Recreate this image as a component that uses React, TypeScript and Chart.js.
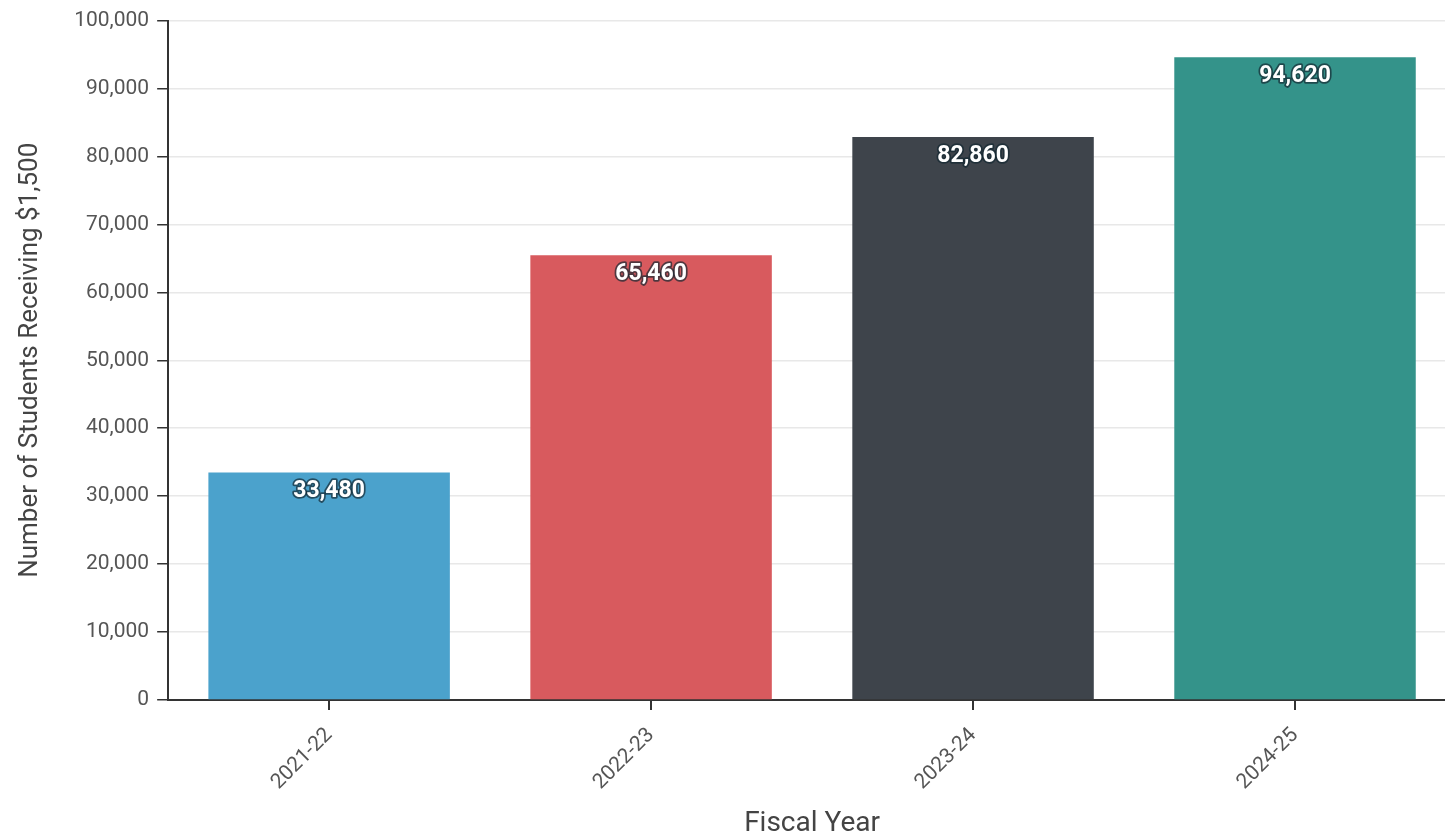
import React, { useEffect, useRef } from "react";
import { Chart, registerables } from "chart.js";

Chart.register(...registerables);

const categories = ["2021-22", "2022-23", "2023-24", "2024-25"];
const students = [33480, 65460, 82860, 94620];
const barColors = ["#4BA2CC", "#D85A5E", "#3E444B", "#34938A"];
const yTicks = [0, 10000, 20000, 30000, 40000, 50000, 60000, 70000, 80000, 90000, 100000];

const valueLabels = {
  id: "valueLabels",
  afterDatasetsDraw(chart: any) {
    const ctx = chart.ctx;
    const meta = chart.getDatasetMeta(0);
    ctx.save();
    ctx.font = "bold 23px Roboto";
    ctx.textAlign = "center";
    ctx.textBaseline = "middle";
    ctx.lineJoin = "round";
    meta.data.forEach((bar: any, i: number) => {
      const text = students[i].toLocaleString("en-US");
      const y = bar.y + 19;
      ctx.lineWidth = 3.5;
      ctx.strokeStyle = "rgba(20,40,50,0.7)";
      ctx.strokeText(text, bar.x, y);
      ctx.fillStyle = "#ffffff";
      ctx.fillText(text, bar.x, y);
    });
    ctx.restore();
  },
};

export default function App() {
  const ref = useRef<HTMLCanvasElement>(null);
  useEffect(() => {
    if (!ref.current) return;
    const chart = new Chart(ref.current, {
      type: "bar",
      data: {
        labels: categories,
        datasets: [
          {
            data: students,
            backgroundColor: barColors,
            barPercentage: 1,
            categoryPercentage: 0.75,
          },
        ],
      },
      plugins: [valueLabels],
      options: {
        animation: false,
        responsive: true,
        maintainAspectRatio: false,
        layout: { padding: { top: 8, right: 4, left: 15, bottom: 0 } },
        plugins: { legend: { display: false }, tooltip: { enabled: false } },
        scales: {
          x: {
            grid: { offset: false, drawOnChartArea: false, drawTicks: true, tickLength: 10, tickColor: "#333", lineWidth: 2 },
            border: { display: true, color: "#333", width: 2 },
            ticks: {
              color: "#555",
              font: { family: "Roboto", size: 21 },
              maxRotation: 45,
              minRotation: 45,
              padding: 13,
            },
            title: {
              display: true,
              text: "Fiscal Year",
              color: "#444",
              font: { family: "Roboto", size: 28, lineHeight: 1.0 },
              padding: { top: 2, bottom: 0 },
            },
          },
          y: {
            min: 0,
            max: 100000,
            afterBuildTicks: (axis: any) => {
              axis.ticks = yTicks.map((v) => ({ value: v }));
            },
            grid: { color: "#e8e8e8", lineWidth: 1.5, drawTicks: true, tickLength: 11, tickColor: "#333" },
            border: { display: true, color: "#333", width: 2 },
            ticks: {
              color: "#555",
              font: { family: "Roboto", size: 21 },
              padding: 8,
              callback: (v: any) => Number(v).toLocaleString("en-US"),
            },
            title: {
              display: true,
              text: "Number of Students Receiving $1,500",
              color: "#444",
              font: { family: "Roboto", size: 26 },
              padding: { top: 0, bottom: 20 },
            },
          },
        },
      },
    });
    return () => chart.destroy();
  }, []);
  return (
    <div style={{ position: "fixed", left: 0, top: 0, width: 1445, height: 838, overflow: "hidden", background: "#fff" }}>
      <div style={{ position: "relative", width: 1460, height: 838 }}>
        <canvas ref={ref} />
      </div>
    </div>
  );
}
